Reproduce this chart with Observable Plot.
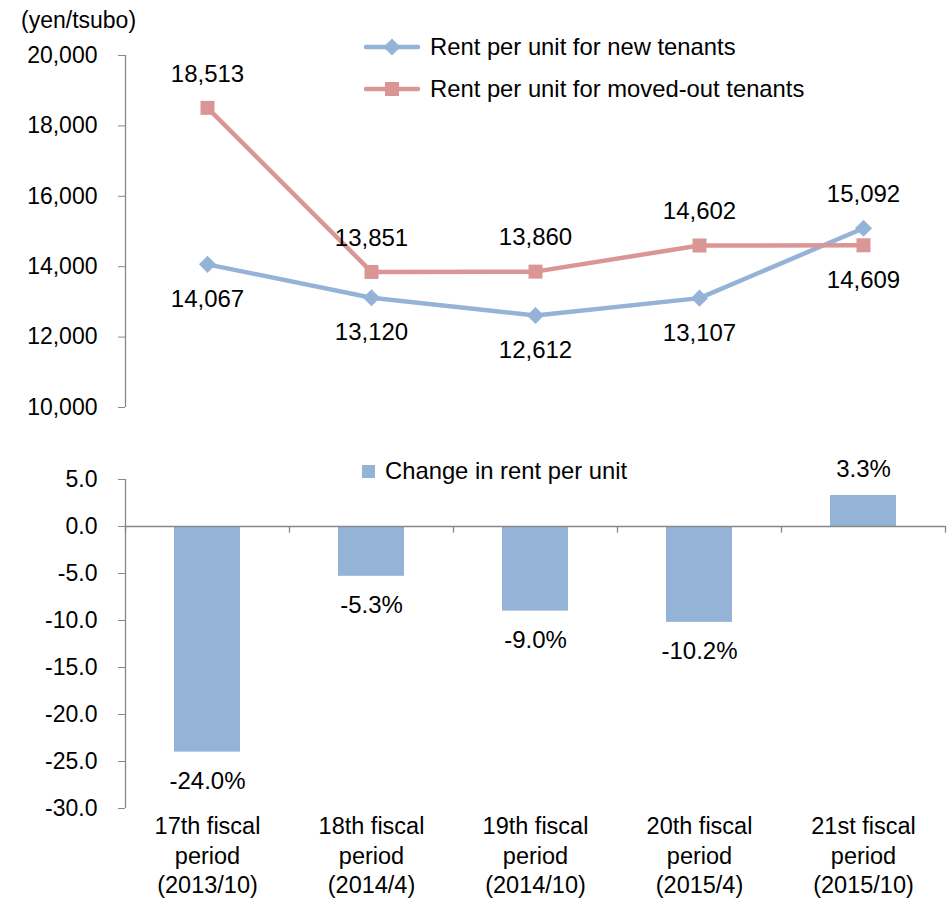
<!DOCTYPE html>
<html>
<head>
<meta charset="utf-8">
<script src="https://cdn.jsdelivr.net/npm/d3@7"></script>
<script src="https://cdn.jsdelivr.net/npm/@observablehq/plot@0.6"></script>
<style>
  body { margin: 0; background: #fff; }
  #wrap { position: relative; width: 950px; height: 898px; font-family: "Liberation Sans", Arial, sans-serif; color: #000; overflow: hidden; }
  #wrap > svg { position: absolute; left: 0; }
  .lbl { position: absolute; white-space: nowrap; line-height: 1; }
  .sw { position: absolute; }
</style>
</head>
<body>
<div id="wrap"></div>
<script>
// ---- data ----
const periods = [
  "17th fiscal\nperiod\n(2013/10)",
  "18th fiscal\nperiod\n(2014/4)",
  "19th fiscal\nperiod\n(2014/10)",
  "20th fiscal\nperiod\n(2015/4)",
  "21st fiscal\nperiod\n(2015/10)"
];
const rentNew = [14067, 13120, 12612, 13107, 15092];
const rentMovedOut = [18513, 13851, 13860, 14602, 14609];
const changePct = [-24.0, -5.3, -9.0, -10.2, 3.3];
const rentTicks = [10000, 12000, 14000, 16000, 18000, 20000];
const changeTicks = [5, 0, -5, -10, -15, -20, -25, -30];
const seriesNames = ["Rent per unit for new tenants", "Rent per unit for moved-out tenants"];
const barName = "Change in rent per unit";
const unitLabel = "(yen/tsubo)";

// ---- styling ----
const FONT = '"Liberation Sans", Arial, sans-serif';
const BLUE = "#95B3D7", RED = "#D99694", AXIS = "#888888";
const W = 950, ML = 125, MR = 5;
const step = (W - ML - MR) / periods.length;
const wrap = document.getElementById("wrap");

const rows = periods.flatMap((p, i) => [
  {period: p, series: seriesNames[0], value: rentNew[i], other: rentMovedOut[i]},
  {period: p, series: seriesNames[1], value: rentMovedOut[i], other: rentNew[i]}
]);
const fmt = d3.format(",");

const topChart = Plot.plot({
  width: W, height: 440,
  marginLeft: ML, marginRight: MR, marginTop: 55, marginBottom: 33,
  style: {fontFamily: FONT, fontSize: "23px", color: "#000", background: "transparent", overflow: "visible"},
  x: {type: "point", domain: periods, axis: null},
  y: {domain: [10000, 20000]},
  color: {domain: seriesNames, range: [BLUE, RED]},
  marks: [
    Plot.ruleX([periods[0]], {dx: -step / 2, y1: 10000, y2: 20000, stroke: AXIS, strokeWidth: 1.3}),
    Plot.axisY({ticks: rentTicks, tickFormat: fmt, tickSize: 7, tickPadding: 21, stroke: AXIS, fill: "#000", fontSize: 23, label: null}),
    Plot.line(rows, {x: "period", y: "value", z: "series", stroke: "series", strokeWidth: 4.5}),
    Plot.dot(rows.filter(d => d.series === seriesNames[1]), {x: "period", y: "value", symbol: "square", r: 7.9, fill: "series"}),
    Plot.dot(rows.filter(d => d.series === seriesNames[0]), {x: "period", y: "value", symbol: "diamond2", r: 7.7, fill: "series"}),
    Plot.text(rows.filter(d => d.value > d.other), {x: "period", y: "value", text: d => fmt(d.value), dy: -34, fontSize: 24, fill: "#000"}),
    Plot.text(rows.filter(d => d.value < d.other), {x: "period", y: "value", text: d => fmt(d.value), dy: 35, fontSize: 24, fill: "#000"})
  ]
});
topChart.style.top = "0px";
wrap.appendChild(topChart);

const bars = periods.map((p, i) => ({period: p, change: changePct[i]}));
const pctFmt = d => d.toFixed(1) + "%";

const bottomChart = Plot.plot({
  width: W, height: 458,
  marginLeft: ML, marginRight: MR, marginTop: 39, marginBottom: 90,
  style: {fontFamily: FONT, fontSize: "23px", color: "#000", background: "transparent", overflow: "visible"},
  x: {type: "band", domain: periods, paddingInner: 0.6, paddingOuter: 0.3},
  y: {domain: [-30, 5]},
  marks: [
    Plot.barY(bars, {x: "period", y: "change", fill: BLUE}),
    Plot.ruleX([periods[0]], {dx: -step / 2, y1: -30, y2: 5, stroke: AXIS, strokeWidth: 1.3}),
    Plot.axisY({ticks: changeTicks, tickFormat: d => d.toFixed(1), tickSize: 7, tickPadding: 21, stroke: AXIS, fill: "#000", fontSize: 23, label: null}),
    Plot.ruleY([0], {stroke: AXIS, strokeWidth: 1.6}),
    Plot.ruleX(periods, {x: d => d, dx: -step / 2, y1: 0, y2: -0.7, stroke: AXIS, strokeWidth: 1.3}),
    Plot.ruleX([periods[periods.length - 1]], {dx: step / 2, y1: 0, y2: -0.7, stroke: AXIS, strokeWidth: 1.3}),
    Plot.text(bars.filter(d => d.change < 0), {x: "period", y: "change", text: d => pctFmt(d.change), dy: 29, fontSize: 24, fill: "#000"}),
    Plot.text(bars.filter(d => d.change >= 0), {x: "period", y: "change", text: d => pctFmt(d.change), dy: -26, fontSize: 24, fill: "#000"}),
    Plot.axisX({tickSize: 0, tickPadding: 5, fontSize: 23.5, lineHeight: 1.25, label: null, fill: "#000"})
  ]
});
bottomChart.style.top = "440px";
wrap.appendChild(bottomChart);

// ---- legends & unit label (HTML) ----
function addText(txt, left, centerY, size) {
  const d = document.createElement("div");
  d.className = "lbl";
  d.textContent = txt;
  d.style.left = left + "px";
  d.style.top = (centerY - size / 2) + "px";
  d.style.fontSize = size + "px";
  wrap.appendChild(d);
}
function addSwatch(left, centerY, color, shape) {
  const ns = "http://www.w3.org/2000/svg";
  const s = document.createElementNS(ns, "svg");
  s.setAttribute("class", "sw");
  s.setAttribute("width", 60); s.setAttribute("height", 24);
  s.style.left = left + "px"; s.style.top = (centerY - 12) + "px";
  const ln = document.createElementNS(ns, "line");
  ln.setAttribute("x1", 2); ln.setAttribute("x2", 54); ln.setAttribute("y1", 12); ln.setAttribute("y2", 12);
  ln.setAttribute("stroke", color); ln.setAttribute("stroke-width", 4.5); ln.setAttribute("stroke-linecap", "round");
  s.appendChild(ln);
  const m = document.createElementNS(ns, "path");
  const sym = shape === "diamond" ? d3.symbol(d3.symbolDiamond2, Math.PI * 7.7 * 7.7) : d3.symbol(d3.symbolSquare, Math.PI * 7.9 * 7.9);
  m.setAttribute("d", sym());
  m.setAttribute("transform", "translate(28,12)");
  m.setAttribute("fill", color);
  s.appendChild(m);
  wrap.appendChild(s);
}
addText(unitLabel, 21, 20, 23);
addSwatch(364, 47, BLUE, "diamond");
addText(seriesNames[0], 430, 47, 23.8);
addSwatch(364, 89, RED, "square");
addText(seriesNames[1], 430, 89, 23.8);
const sq = document.createElement("div");
sq.style.cssText = `position:absolute;left:362px;top:465px;width:13px;height:13px;background:${BLUE}`;
wrap.appendChild(sq);
addText(barName, 385, 471, 23.8);
</script>
</body>
</html>
